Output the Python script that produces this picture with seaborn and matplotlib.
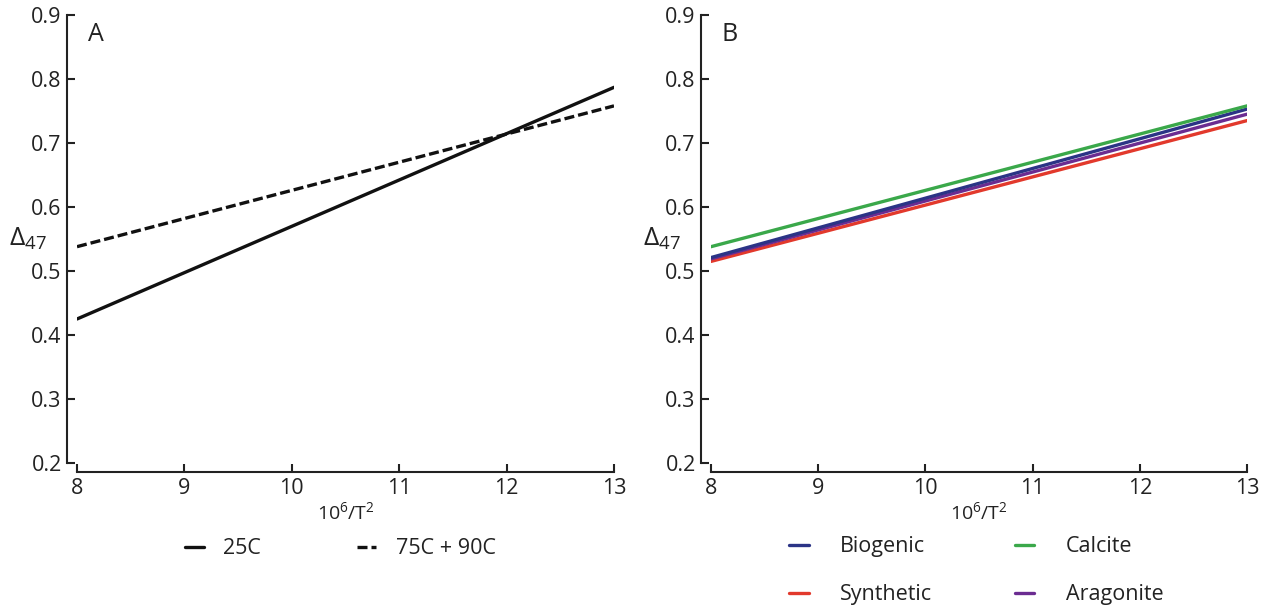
import numpy as np
import pandas as pd
import matplotlib
matplotlib.use("Agg")
import matplotlib.pyplot as plt
import seaborn as sns

# ---- data (endpoints of the fitted lines) ----
x_vals = [8, 13]
a_25c = [0.425, 0.787]
a_75_90 = [0.538, 0.758]
b_biogenic = [0.521, 0.753]
b_synthetic = [0.515, 0.735]
b_calcite = [0.538, 0.758]
b_aragonite = [0.519, 0.745]

x_ticks = [8, 9, 10, 11, 12, 13]
y_ticks = [0.2, 0.3, 0.4, 0.5, 0.6, 0.7, 0.8, 0.9]

sns.set_theme(style="ticks")
plt.rcParams['font.family'] = ['Open Sans', 'DejaVu Sans']
plt.rcParams['mathtext.fontset'] = 'custom'
plt.rcParams['mathtext.rm'] = 'Open Sans'
plt.rcParams['mathtext.it'] = 'Open Sans'

W, H = 1269, 606
fig = plt.figure(figsize=(W / 100, H / 100), dpi=100)

def make_ax(left_px, right_px):
    top_px, bot_px = 15, 463
    return fig.add_axes([left_px / W, 1 - bot_px / H,
                         (right_px - left_px) / W, (bot_px - top_px) / H])

axA = make_ax(77, 614)
axB = make_ax(711, 1247)

dfA = pd.DataFrame({
    "x": x_vals * 2,
    "y": a_25c + a_75_90,
    "series": ["25C"] * 2 + ["75C + 90C"] * 2,
})
sns.lineplot(data=dfA[dfA.series == "25C"], x="x", y="y", ax=axA,
             color="#111111", lw=2.4, label="25C")
sns.lineplot(data=dfA[dfA.series == "75C + 90C"], x="x", y="y", ax=axA,
             color="#111111", lw=2.4, linestyle=(0, (3, 1.2)), label="75C + 90C")

dfB = pd.DataFrame({
    "x": x_vals * 4,
    "y": b_biogenic + b_synthetic + b_calcite + b_aragonite,
    "series": ["Biogenic"] * 2 + ["Synthetic"] * 2 + ["Calcite"] * 2 + ["Aragonite"] * 2,
})
palette = {"Biogenic": "#2b3486", "Synthetic": "#e2392c",
           "Calcite": "#3aa84a", "Aragonite": "#6b2c91"}
sns.lineplot(data=dfB, x="x", y="y", hue="series",
             hue_order=["Synthetic", "Aragonite", "Biogenic", "Calcite"],
             palette=palette, ax=axB, lw=2.4)

for ax, letter in [(axA, "A"), (axB, "B")]:
    ax.set_xlim(8, 13)
    ax.set_ylim(0.2, 0.9)
    ax.set_xticks(x_ticks)
    ax.set_yticks(y_ticks)
    ax.set_xticklabels([str(t) for t in x_ticks])
    ax.set_yticklabels([f"{t:.1f}" for t in y_ticks])
    ax.tick_params(direction="in", length=6, width=1.5, labelsize=15.5,
                   colors="#222222", pad=4)
    for s in ["top", "right"]:
        ax.spines[s].set_visible(False)
    ax.spines["left"].set_position(("outward", 7))
    ax.spines["bottom"].set_position(("outward", 6.5))
    ax.spines["left"].set_bounds(0.2, 0.9)
    ax.spines["bottom"].set_bounds(8, 13)
    for s in ["left", "bottom"]:
        ax.spines[s].set_linewidth(1.5)
        ax.spines[s].set_color("#222222")
    ax.set_xlabel("10$^6$/T$^2$", fontsize=14, color="#222222", labelpad=2)
    ax.set_ylabel("Δ$_{47}$", fontsize=19, rotation=0, color="#222222",
                  va="center", ha="center")
    ax.yaxis.set_label_coords(-0.091, 0.50)
    ax.text(0.02, 0.985, letter, transform=ax.transAxes, fontsize=18,
            color="#222222", va="top", ha="left")

axA.legend(loc="upper center", bbox_to_anchor=(0.49, -0.125), ncol=2,
           frameon=False, fontsize=15.5, handlelength=0.9, handletextpad=0.9,
           columnspacing=4.45, labelcolor="#222222")

hB, lB = axB.get_legend_handles_labels()
order = ["Biogenic", "Synthetic", "Calcite", "Aragonite"]
hmap = dict(zip(lB, hB))
axB.legend([hmap[k] for k in order], order, loc="upper center",
           bbox_to_anchor=(0.495, -0.12), ncol=2, frameon=False, fontsize=15.5,
           handlelength=0.9, handletextpad=1.45, columnspacing=3.85,
           labelspacing=1.25, labelcolor="#222222")

fig.savefig("out.png", dpi=100, facecolor="white")
